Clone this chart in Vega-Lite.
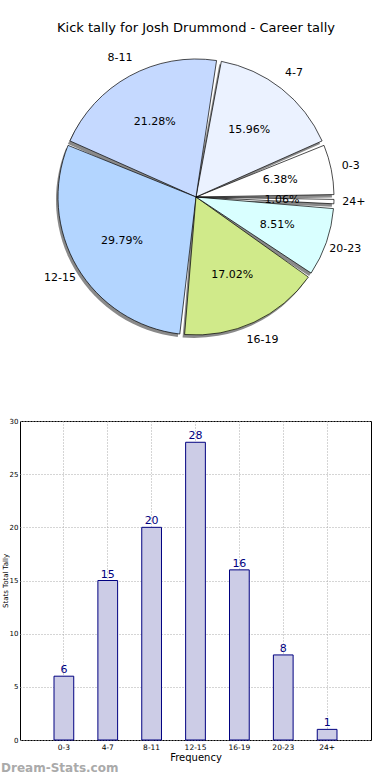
{
  "$schema": "https://vega.github.io/schema/vega-lite/v6.json",
  "padding": {"top": 22, "left": 0, "right": 0, "bottom": 0},
  "spacing": 67,
  "config": {"font": "DejaVu Sans"},
  "datasets": {
    "kicks": [
      {"range": "0-3", "count": 6, "pct": "6.38%", "i": 1},
      {"range": "4-7", "count": 15, "pct": "15.96%", "i": 2},
      {"range": "8-11", "count": 20, "pct": "21.28%", "i": 3},
      {"range": "12-15", "count": 28, "pct": "29.79%", "i": 4},
      {"range": "16-19", "count": 16, "pct": "17.02%", "i": 5},
      {"range": "20-23", "count": 8, "pct": "8.51%", "i": 6},
      {"range": "24+", "count": 1, "pct": "1.06%", "i": 7}
    ]
  },
  "vconcat": [
    {
      "width": 352,
      "height": 304,
      "view": {"stroke": null},
      "title": {"text": "Kick tally for Josh Drummond - Career tally", "fontSize": 13, "fontWeight": "normal", "color": "#000", "anchor": "middle", "offset": 10},
      "data": {"name": "kicks"},
      "encoding": {
        "theta": {"field": "count", "type": "quantitative", "stack": true, "scale": {"range": [1.5708, -4.7124]}},
        "order": {"field": "i", "type": "quantitative"}
      },
      "layer": [
        {
          "mark": {"type": "arc", "outerRadius": 138, "padAngle": 0.035, "fill": "#8a8a8a", "xOffset": -2, "yOffset": 3}
        },
        {
          "mark": {"type": "arc", "outerRadius": 138, "padAngle": 0.035, "stroke": "#000", "strokeWidth": 0.7},
          "encoding": {
            "color": {"field": "range", "type": "nominal", "legend": null,
              "scale": {"domain": ["0-3", "4-7", "8-11", "12-15", "16-19", "20-23", "24+"],
                        "range": ["#ffffff", "#ebf2ff", "#c5d9ff", "#b3d5ff", "#d0ea8a", "#d9ffff", "#ffffff"]}}
          }
        },
        {
          "mark": {"type": "text", "radius": 86, "fontSize": 11, "color": "#000"},
          "encoding": {"text": {"field": "pct"}}
        },
        {
          "mark": {"type": "text", "radius": 158, "fontSize": 11, "color": "#000"},
          "encoding": {"text": {"field": "range"}}
        }
      ]
    },
    {
      "width": 351,
      "height": 319,
      "view": {"stroke": "#000", "strokeWidth": 1},
      "title": {"text": "Dream-Stats.com", "orient": "bottom", "anchor": "start", "frame": "bounds", "fontSize": 12, "fontWeight": "bold", "color": "#aaaaaa", "offset": 0},
      "data": {"name": "kicks"},
      "encoding": {
        "x": {"field": "range", "type": "nominal", "sort": null,
          "scale": {"paddingInner": 0.55, "paddingOuter": 0.775},
          "axis": {"title": "Frequency", "titleFontSize": 10, "titleFontWeight": "normal", "titlePadding": 2, "labelFontSize": 7.5, "labelAngle": 0, "labelPadding": 3, "ticks": false, "domain": false, "grid": true, "bandPosition": 0.5, "gridDash": [1, 2], "gridColor": "#aaa", "labelColor": "#000", "titleColor": "#000"}},
        "y": {"field": "count", "type": "quantitative",
          "scale": {"domain": [0, 30], "nice": false},
          "axis": {"title": "Stats Total Tally", "titleFontSize": 7, "titleFontWeight": "normal", "titlePadding": 1, "labelFontSize": 7, "labelPadding": 2, "ticks": false, "domain": false, "values": [0, 5, 10, 15, 20, 25, 30], "grid": true, "gridDash": [1, 2], "gridColor": "#aaa", "labelColor": "#000", "titleColor": "#000"}}
      },
      "layer": [
        {"mark": {"type": "bar", "fill": "#ccccE6", "stroke": "#000080", "strokeWidth": 1}},
        {"mark": {"type": "text", "baseline": "bottom", "dy": -1, "fontSize": 11, "color": "#000080"},
         "encoding": {"text": {"field": "count"}}}
      ]
    }
  ]
}
